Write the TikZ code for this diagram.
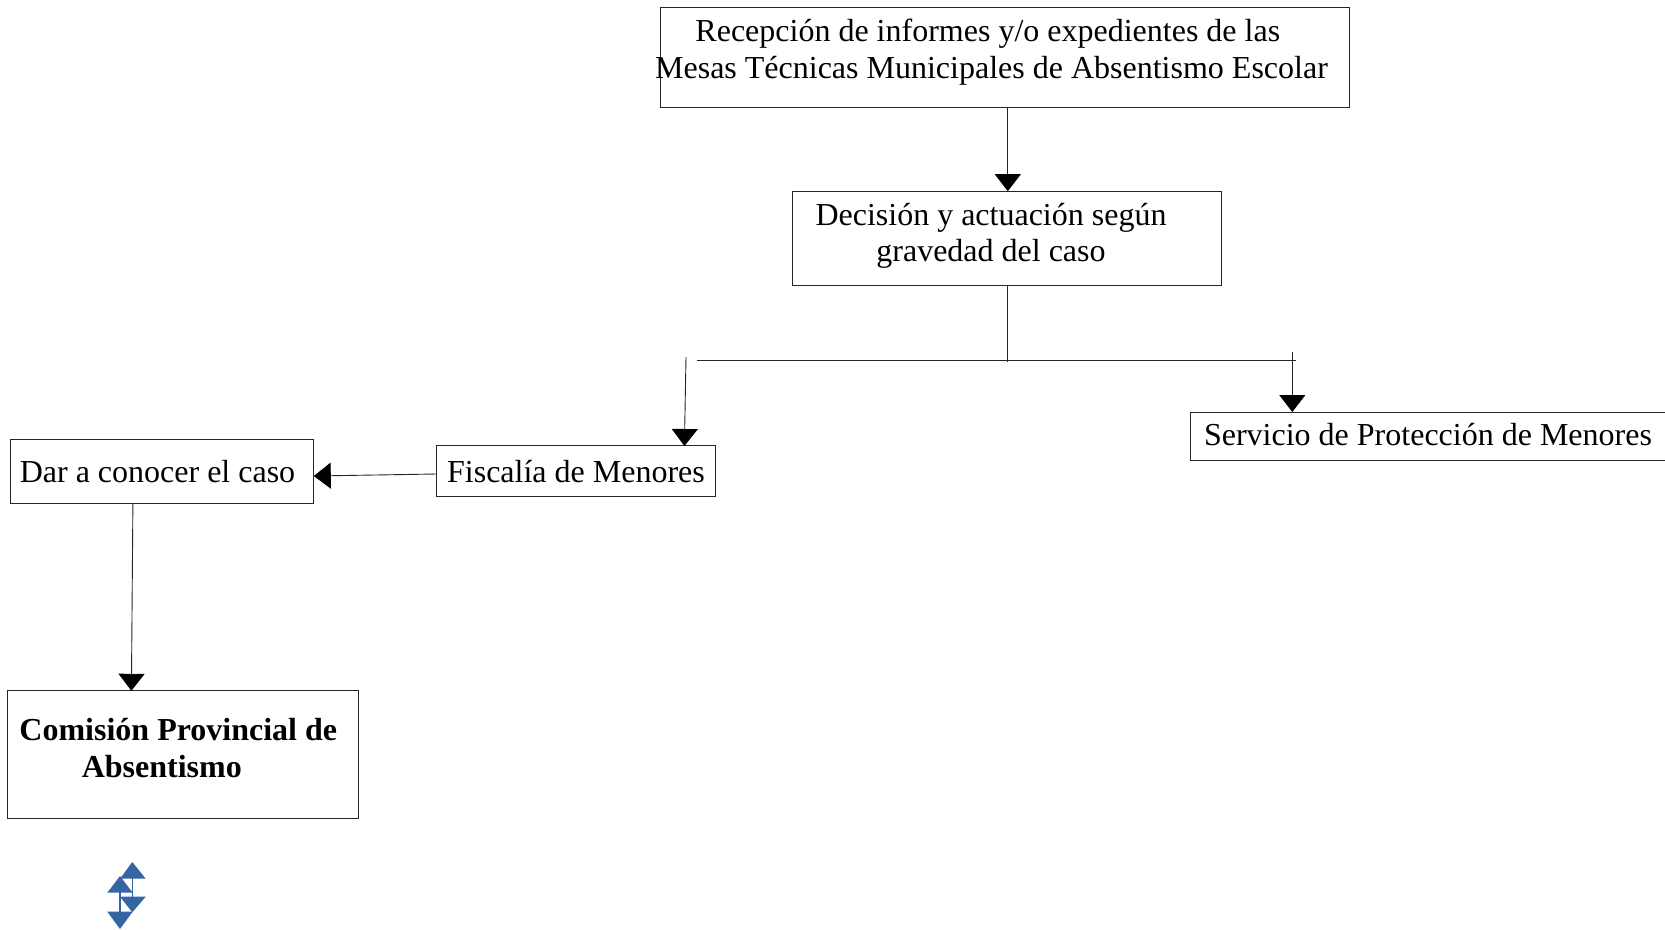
\documentclass[tikz,border=0pt]{standalone}
\usepackage{fontspec}
\setmainfont{Liberation Serif}
\usetikzlibrary{arrows.meta}
\definecolor{iconblue}{HTML}{3465A4}
\tikzset{
  boxnode/.style={draw=black!85,line width=0.8pt,inner sep=0pt,outer sep=0pt},
  lbl/.style={inner sep=0pt,outer sep=0pt,font=\fontsize{32}{36.5}\selectfont,align=center,text=black},
  conn/.style={draw=black!85,line width=0.9pt},
  arr/.style={conn,-{Triangle[length=17pt,width=26pt,black]}},
  tri/.style={fill=iconblue,draw=none},
  triline/.style={draw=iconblue,line width=1.2pt}
}
\newcommand{\bx}[5]{\node[boxnode,anchor=north west,minimum width=#4pt-#2pt,minimum height=#5pt-#3pt] (#1) at (#2,#3) {};}
\begin{document}
\begin{tikzpicture}[x=1pt,y=-1pt]
\useasboundingbox (0,0) rectangle (1665,929);
\bx{recep}{660.8}{7.5}{1349.6}{107.8}
\bx{decis}{792}{191.2}{1221}{285.6}
\bx{fisc}{436.4}{445.6}{715.7}{496.6}
\bx{dar}{10.6}{439.6}{313.8}{503.4}
\bx{serv}{1190.4}{412}{1666}{460.3}
\bx{comis}{7.4}{690.8}{358.2}{818.7}
\node[lbl,anchor=center] (trecep) at (991.5,52) {\hspace*{3.3pt}Recepción de informes y/o expedientes de las\hspace*{10.7pt}\\Mesas Técnicas Municipales de Absentismo Escolar};
\node[lbl,anchor=center] (tdecis) at (991,236) {Decisión y actuación según\\gravedad del caso};
\node[lbl,anchor=center] (tfisc) at (576,472) {Fiscalía de Menores};
\node[lbl,anchor=center] (tdar) at (157.5,472) {Dar a conocer el caso};
\node[lbl,anchor=center] (tserv) at (1428,435) {Servicio de Protección de Menores};
\node[lbl,anchor=center,font=\fontsize{32}{36.5}\selectfont\bfseries] (tcomis) at (178.3,748) {Comisión Provincial de\\Absentismo\hspace*{33pt}};
\coordinate (jtop) at (1007.8,362);
\coordinate (hl) at (696.6,360.5);
\coordinate (hr) at (1296,360.5);
\coordinate (ls) at (686,357);
\coordinate (rs) at (1292.3,351.5);
\draw[arr] (1007.8,107.8) -- (1007.8,191.2);
\draw[conn] (1007.8,285.6) -- (jtop);
\draw[conn] (hl) -- (hr);
\draw[arr] (ls) -- (684.4,446);
\draw[arr] (rs) -- (1292.3,412);
\draw[arr] (436.4,474) -- (313.8,476);
\draw[arr] (132.9,503.9) -- (131.4,690.8);
% icon
\fill[tri] (132.3,862) -- (145.7,878.7) -- (120,878.7) -- cycle;
\fill[tri] (120,876) -- (132.7,892.7) -- (107.3,892.7) -- cycle;
\fill[tri] (120,896.7) -- (145.7,896.7) -- (132.3,912.3) -- cycle;
\fill[tri] (107.3,911.7) -- (132.7,911.7) -- (120,929) -- cycle;
\draw[triline] (132.3,878) -- (132.3,897);
\draw[triline] (120,892) -- (120,912);
\end{tikzpicture}
\end{document}
